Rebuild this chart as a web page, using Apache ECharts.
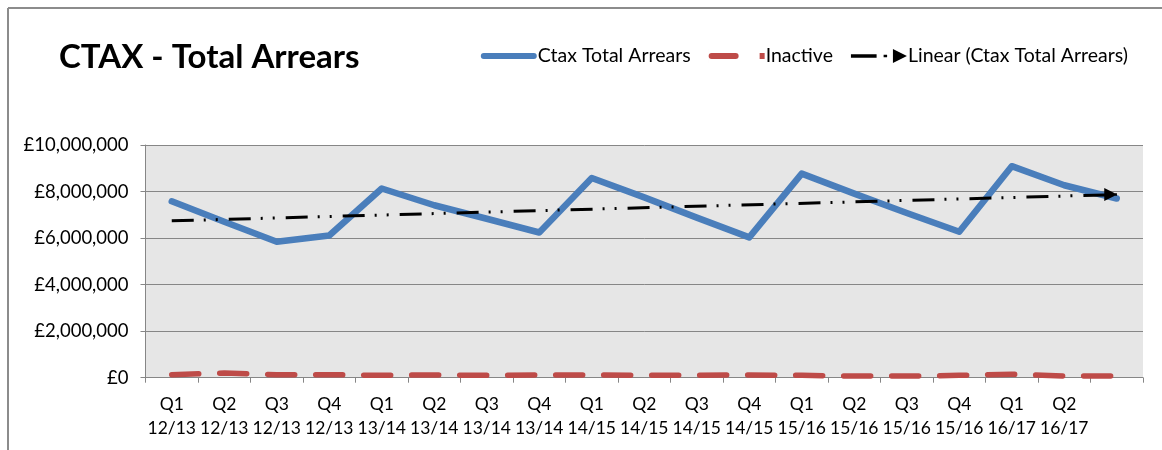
<!DOCTYPE html>
<html>
<head>
<meta charset="utf-8">
<script src="https://cdn.jsdelivr.net/npm/echarts@6/dist/echarts.min.js"></script>
<style>
html,body{margin:0;padding:0;background:#fff;}
#c{width:1162px;height:450px;}
</style>
</head>
<body>
<div id="c"></div>
<script>
const categories = ['Q1\n12/13','Q2\n12/13','Q3\n12/13','Q4\n12/13','Q1\n13/14','Q2\n13/14','Q3\n13/14','Q4\n13/14','Q1\n14/15','Q2\n14/15','Q3\n14/15','Q4\n14/15','Q1\n15/16','Q2\n15/16','Q3\n15/16','Q4\n15/16','Q1\n16/17','Q2\n16/17',''];
const totalArrears = [7580000,6700000,5840000,6110000,8130000,7410000,6830000,6240000,8580000,7750000,6880000,6030000,8770000,7910000,7080000,6270000,9090000,8270000,7700000];
const inactive = [130000,200000,130000,130000,100000,120000,100000,120000,120000,100000,100000,120000,100000,70000,70000,100000,150000,70000,70000];
const trendStart = [0, 6740000];
const trendEnd = [18, 7870000];
const yTicks = {min:0, max:10000000, interval:2000000};

const FONT = 'Lato';
const fmt = v => '£' + Math.round(v).toLocaleString('en-GB');

const chart = echarts.init(document.getElementById('c'), null, {renderer:'canvas'});
chart.setOption({
  animation:false,
  backgroundColor:'#ffffff',
  title:{
    text:'CTAX - Total Arrears',
    left:54, top:36,
    textStyle:{fontFamily:FONT, fontWeight:'bold', fontSize:33, color:'#000'}
  },
  legend:{
    right:29, top:41,
    itemWidth:56, itemHeight:14, itemGap:18,
    textStyle:{fontFamily:FONT, fontSize:19.5, color:'#000', padding:[0,0,0,-4]},
    data:[
      {name:'Ctax Total Arrears', icon:'path://M3,4H53A3,3,0,0,1,53,10H3A3,3,0,0,1,3,4Z M0,0H0.01V14H0Z'},
      {name:'Inactive', icon:'path://M3,4H27A3,3,0,0,1,27,10H3A3,3,0,0,1,3,4Z M51,4H56V10H51Z M0,0H0.01V14H0Z'},
      {name:'Linear (Ctax Total Arrears)', icon:'path://M0,6H22V9H0Z M28,6.5H31V8.5H28Z M36,1.5L48,7.5L36,13.5Z'}
    ]
  },
  graphic:[
    {type:'line', shape:{x1:8,y1:8,x2:1162,y2:8}, style:{stroke:'#8c8c8c', lineWidth:2}, silent:true},
    {type:'line', shape:{x1:8,y1:8,x2:8,y2:450}, style:{stroke:'#8c8c8c', lineWidth:2}, silent:true}
  ],
  grid:{
    left:145.5, right:19, top:145, bottom:72.3,
    show:true, backgroundColor:'#e6e6e6', borderWidth:0
  },
  xAxis:{
    type:'category',
    data:categories,
    boundaryGap:true,
    axisLine:{show:true, lineStyle:{color:'#868686', width:1}},
    axisTick:{show:true, length:5, lineStyle:{color:'#868686'}},
    axisLabel:{interval:0, fontFamily:FONT, fontSize:17.5, color:'#000', lineHeight:24, margin:15}
  },
  yAxis:{
    type:'value',
    min:yTicks.min, max:yTicks.max, interval:yTicks.interval,
    axisLine:{show:true, lineStyle:{color:'#868686', width:1}},
    axisTick:{show:true, length:5, lineStyle:{color:'#868686'}},
    splitLine:{show:true, lineStyle:{color:'#868686', width:1}},
    axisLabel:{fontFamily:FONT, fontSize:18.5, color:'#000', margin:17, formatter:fmt}
  },
  series:[
    {
      name:'Ctax Total Arrears', type:'line', data:totalArrears,
      symbol:'none', z:3,
      lineStyle:{color:'#4a7ebb', width:6.5, cap:'round', join:'round'},
      itemStyle:{color:'#4a7ebb'}
    },
    {
      name:'Inactive', type:'line', data:inactive,
      symbol:'none', z:2,
      lineStyle:{color:'#be4b48', width:5.5, type:[27,21], cap:'round', join:'round'},
      itemStyle:{color:'#be4b48'}
    },
    {
      name:'Linear (Ctax Total Arrears)', type:'line',
      data:[
        {value:trendStart, symbol:'none'},
        {value:trendEnd, symbol:'triangle', symbolSize:[13,13], symbolRotate:-90, symbolOffset:[-6,0]}
      ],
      showSymbol:true, z:4,
      lineStyle:{color:'#000', width:3, type:[22,10,2,10,2,11]},
      itemStyle:{color:'#000'}
    }
  ]
});
</script>
</body>
</html>
